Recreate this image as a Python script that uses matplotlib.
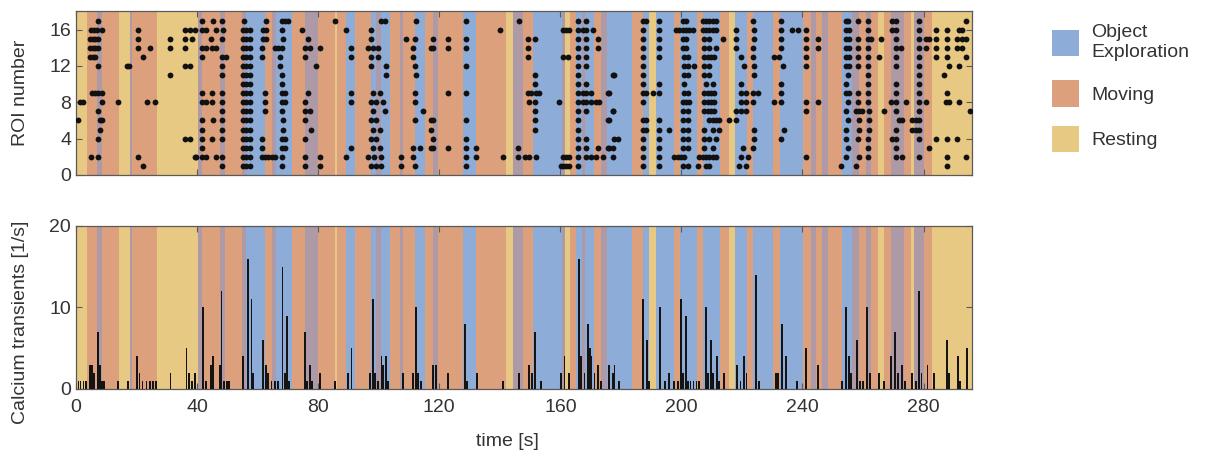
import matplotlib
matplotlib.use("Agg")
import matplotlib.pyplot as plt
from matplotlib.patches import Patch

plt.rcParams['font.family'] = ['Liberation Sans', 'DejaVu Sans']

# behaviour segments: edges in seconds, one state per segment
# E = object exploration, M = moving, R = resting, G = overlap / transition
seg_edges = [0, 3.5, 6.8, 8.7, 14.3, 17.8, 18.4, 26.8, 40.4, 41.5, 47.5, 49.2, 54.7,
             56.3, 62.4, 64.9, 66.2, 71.2, 75.6, 80, 85.5, 86.2, 89.3, 92.1, 97.6,
             99, 100.9, 103.6, 106.9, 108, 111.9, 115.2, 117.9, 119.6, 127.8, 132.2,
             142.2, 144.3, 147.6, 150.9, 160.5, 161.5, 163.2, 165.2, 167, 168, 171,
             173.5, 175.3, 183.7, 187.2, 189.2, 191.6, 197.4, 199.6, 205.1, 207, 212.9,
             215.6, 217.8, 221.6, 223.8, 230.1, 232.6, 240.3, 242.8, 244.4, 246.6,
             248.3, 253.2, 256.5, 258.7, 261, 262.6, 264.8, 267, 269.2, 273.6, 275.8,
             276.9, 280.2, 282.7, 296]
seg_states = ['R', 'M', 'G', 'M', 'R', 'G', 'M', 'R', 'G', 'M', 'G', 'M',
              'G', 'E', 'M', 'G', 'E', 'M', 'G', 'M', 'R', 'M', 'E', 'M',
              'E', 'G', 'E', 'M', 'G', 'M', 'E', 'M', 'G', 'M', 'E',
              'M', 'R', 'G', 'M', 'E', 'G', 'R', 'M', 'E', 'G', 'E',
              'M', 'G', 'E', 'M', 'E', 'R', 'E', 'M', 'E', 'M', 'E',
              'M', 'R', 'E', 'M', 'E', 'M', 'E', 'M', 'G', 'M',
              'G', 'M', 'E', 'G', 'M', 'G', 'M', 'R', 'M', 'G', 'M',
              'R', 'G', 'M', 'R']

state_colors = {'E': '#8dacd8', 'M': '#dca17c', 'R': '#e8c983', 'G': '#ad9aa6'}
legend_labels = ['Object\nExploration', 'Moving', 'Resting']

# calcium transient times per ROI [s]
roi_17 = [7.4, 41.5, 45.3, 48.1, 55.5, 62.9, 67.9, 69.0, 70.1, 85.5, 100.9, 102.0, 112.4,
          128.7, 146.3, 165.8, 168.5, 187.2, 188.3, 192.7, 200.4, 201.5, 207.0, 208.1,
          209.2, 210.3, 211.4, 223.5, 232.9, 254.3, 255.2, 258.5, 261.5, 269.7, 270.8,
          278.5, 293.9]
roi_16 = [4.8, 5.9, 7.0, 8.5, 20.4, 36.0, 37.6, 39.3, 41.5, 43.1, 46.4, 48.6, 55.2, 56.3,
          57.4, 61.8, 62.9, 67.9, 74.5, 89.3, 97.6, 140.2, 160.8, 161.9, 163.0, 165.8,
          167.4, 168.5, 170.7, 187.2, 192.7, 198.2, 199.3, 200.4, 201.5, 202.6, 203.7,
          207.0, 208.1, 209.2, 210.3, 211.4, 218.0, 224.1, 232.9, 236.7, 238.4, 241.1,
          254.3, 255.4, 261.5, 269.7, 270.8, 278.5, 284.0, 287.9, 291.7, 292.8]
roi_15 = [4.6, 5.5, 6.4, 7.4, 20.4, 31.0, 36.0, 38.2, 44.5, 48.1, 55.2, 56.3, 57.4, 61.8,
          62.9, 68.4, 76.7, 97.6, 109.1, 111.9, 117.9, 122.9, 128.7, 149.3, 151.5, 165.8,
          168.5, 172.4, 187.2, 192.7, 200.4, 201.5, 207.6, 209.2, 213.6, 218.0, 224.1,
          232.9, 241.1, 245.0, 254.3, 255.4, 258.5, 261.5, 262.6, 265.9, 270.8, 278.5,
          280.7, 281.8, 284.0, 287.9, 291.1, 292.8, 293.9]
roi_14 = [4.6, 5.5, 6.4, 7.4, 20.4, 24.4, 31.0, 36.0, 41.5, 43.1, 44.8, 46.4, 55.2, 56.3,
          57.4, 61.3, 65.7, 66.8, 67.9, 75.6, 77.2, 80.5, 91.0, 96.5, 98.1, 99.8, 111.3,
          117.4, 117.9, 122.9, 128.7, 149.3, 165.8, 168.5, 172.4, 187.2, 192.7, 200.4,
          201.5, 207.6, 209.2, 211.4, 218.0, 223.5, 232.9, 241.1, 245.0, 254.3, 255.4,
          258.5, 261.5, 270.8, 272.5, 278.5, 280.7, 284.0, 287.9, 291.1, 292.8]
roi_13 = [4.6, 5.5, 6.4, 22.0, 41.5, 48.1, 49.7, 55.2, 56.3, 57.4, 61.3, 67.3, 75.6, 91.0,
          97.6, 99.8, 111.3, 149.3, 160.8, 162.5, 165.8, 168.5, 187.2, 192.7, 201.0,
          202.1, 207.6, 208.7, 209.8, 210.9, 219.7, 223.5, 230.7, 232.3, 241.1, 254.3,
          255.4, 258.5, 261.5, 265.3, 270.8, 278.5, 284.0, 287.9, 293.9]
roi_12 = [7.4, 16.9, 17.6, 36.0, 37.6, 48.1, 55.2, 56.3, 57.4, 67.3, 79.4, 97.6, 102.5,
          111.9, 128.7, 165.8, 168.5, 187.2, 201.0, 202.1, 204.3, 207.6, 209.2, 220.8,
          224.1, 233.4, 241.1, 254.3, 255.4, 258.5, 261.5, 270.8, 278.5, 288.4, 291.7]
roi_11 = [31.0, 48.1, 55.2, 56.3, 57.4, 67.9, 102.5, 112.4, 151.5, 165.8, 177.9, 177.3,
          187.2, 201.0, 202.1, 207.6, 209.2, 224.1, 254.9, 261.5, 278.5, 286.8]
roi_10 = [55.2, 56.3, 57.4, 67.9, 151.5, 165.8, 168.5, 187.2, 192.7, 201.0, 208.1, 210.3,
          219.7, 232.9, 254.3, 261.5, 270.8, 278.5]
roi_9 = [5.2, 6.3, 7.4, 8.5, 41.5, 44.8, 48.1, 55.2, 56.3, 57.4, 62.4, 67.9, 69.0, 76.7,
         91.0, 98.1, 100.3, 111.9, 122.9, 128.7, 149.3, 150.4, 152.0, 153.1, 165.8, 167.4,
         168.5, 170.2, 175.7, 176.2, 187.2, 188.3, 190.5, 192.7, 201.0, 202.1, 207.6,
         208.7, 209.8, 210.9, 219.7, 221.3, 223.5, 225.2, 232.9, 254.3, 255.4, 258.5,
         261.5, 270.8, 278.5, 287.9]
roi_8 = [1.3, 2.4, 8.5, 14.0, 23.3, 26.1, 41.5, 43.1, 44.8, 48.1, 55.2, 56.3, 57.4, 62.4,
         67.9, 69.0, 75.6, 91.0, 97.6, 99.2, 101.4, 111.9, 149.8, 151.5, 159.7, 165.8,
         167.4, 168.5, 170.2, 171.8, 172.9, 187.2, 200.4, 201.5, 202.6, 207.6, 208.7,
         209.8, 210.9, 219.7, 221.3, 223.5, 230.7, 232.9, 241.1, 245.0, 254.9, 258.5,
         261.5, 269.2, 270.8, 274.1, 278.5, 280.7, 287.3, 288.4, 291.7]
roi_7 = [7.4, 48.1, 55.2, 56.3, 57.4, 62.4, 67.9, 75.6, 77.2, 98.1, 102.0, 114.6, 151.5,
         165.8, 168.5, 177.4, 177.3, 200.4, 202.1, 207.6, 208.7, 209.8, 210.9, 218.0,
         219.7, 221.3, 241.1, 254.3, 257.6, 258.7, 259.8, 262.0, 267.0, 270.8, 278.5, 295.5]
roi_6 = [0.8, 8.0, 8.6, 41.5, 45.3, 48.1, 55.2, 56.3, 57.4, 68.4, 75.6, 97.6, 99.2, 111.9,
         117.4, 117.9, 128.7, 151.5, 165.8, 175.7, 176.2, 187.2, 188.3, 192.7, 200.4,
         202.1, 209.2, 210.3, 211.4, 212.5, 215.8, 218.0, 254.9, 258.7, 262.0, 271.9,
         273.0, 276.3, 277.4, 278.5]
roi_5 = [7.9, 41.5, 48.1, 55.2, 56.3, 57.4, 68.4, 77.8, 98.1, 100.3, 117.4, 151.5, 165.8,
         187.2, 188.3, 192.7, 196.0, 200.4, 202.1, 207.6, 210.3, 212.5, 224.1, 234.0,
         254.3, 258.7, 262.0, 270.8, 276.3, 277.4, 278.5]
roi_4 = [7.4, 36.0, 37.6, 41.5, 44.8, 48.1, 55.2, 56.3, 57.4, 61.3, 67.9, 69.0, 75.6, 97.6,
         99.2, 117.9, 128.7, 165.8, 168.5, 177.9, 179.0, 187.2, 192.7, 200.4, 202.1, 207.6,
         209.2, 211.4, 224.1, 232.9, 254.3, 258.5, 261.5, 269.7, 270.8, 278.5, 284.0,
         287.9, 291.1]
roi_3 = [41.5, 55.2, 56.3, 57.4, 61.3, 67.9, 69.0, 91.0, 98.1, 100.3, 111.3, 113.5, 117.4,
         117.9, 122.9, 128.7, 132.2, 146.0, 165.8, 168.5, 172.4, 175.7, 177.4, 176.2,
         187.2, 192.7, 200.4, 202.1, 207.6, 210.3, 220.2, 223.5, 254.9, 261.5, 270.8, 281.8]
roi_2 = [4.8, 7.4, 20.4, 39.3, 39.8, 41.5, 43.1, 46.4, 48.1, 55.2, 56.3, 57.4, 61.3, 62.4,
         63.5, 64.6, 65.7, 67.9, 75.6, 80.5, 89.3, 96.5, 98.6, 100.9, 107.5, 111.3, 128.7,
         132.2, 141.0, 146.0, 148.2, 149.8, 152.0, 160.8, 161.9, 163.0, 165.8, 168.5,
         170.2, 171.8, 174.1, 177.3, 187.2, 192.7, 197.7, 198.8, 199.9, 201.0, 205.9,
         207.0, 208.1, 209.2, 210.3, 211.4, 219.7, 221.9, 241.1, 254.3, 258.7, 261.5,
         270.8, 273.0, 278.5, 287.9, 293.9]
roi_1 = [22.0, 48.1, 55.2, 56.3, 57.4, 67.9, 75.6, 80.5, 97.6, 99.2, 100.9, 107.5, 111.9,
         128.7, 160.3, 160.8, 161.9, 163.0, 165.8, 187.2, 192.7, 200.4, 202.1, 205.4,
         208.1, 209.2, 219.1, 221.3, 252.7, 257.6, 287.9]

roi_lists = [roi_1, roi_2, roi_3, roi_4, roi_5, roi_6, roi_7, roi_8, roi_9, roi_10,
             roi_11, roi_12, roi_13, roi_14, roi_15, roi_16, roi_17]

# population calcium transient rate [1/s]
rate_t = [0.8, 1.5, 2.5, 3.2, 4.6, 5.3, 5.9, 7.4, 8.0, 8.6, 9.2, 14.0, 17.3, 20.2, 21.0,
          22.0, 23.3, 24.4, 25.5, 26.3, 31.2, 36.5, 37.2, 38.2, 39.3, 42.0, 43.0, 44.5,
          45.3, 47.6, 48.1, 48.8, 49.8, 50.5, 55.2, 56.9, 58.0, 58.6, 61.8, 62.9, 63.5,
          64.6, 65.7, 66.8, 68.2, 69.0, 69.7, 70.3, 75.6, 76.2, 77.2, 78.0, 80.5, 85.5,
          89.9, 91.0, 97.0, 98.1, 98.7, 99.8, 100.9, 101.5, 102.5, 103.1, 108.0, 111.3,
          112.4, 113.0, 114.0, 117.9, 119.0, 122.9, 128.6, 129.2, 132.4, 141.0, 146.3,
          149.6, 150.6, 151.7, 153.7, 160.3, 161.4, 163.0, 166.1, 166.9, 168.0, 169.1,
          169.7, 170.2, 171.3, 172.4, 173.5, 176.2, 177.3, 177.9, 179.5, 187.2, 188.6,
          189.3, 193.0, 194.5, 196.0, 197.5, 198.8, 199.9, 200.6, 201.5, 202.2, 203.0,
          204.0, 205.0, 205.9, 208.1, 208.8, 209.8, 210.5, 211.7, 212.4, 214.2, 218.3,
          219.5, 220.8, 221.5, 224.6, 225.7, 231.2, 232.0, 233.2, 234.5, 238.1, 241.1,
          245.0, 253.0, 254.3, 255.4, 256.0, 258.1, 259.0, 260.0, 261.4, 262.2, 265.3,
          267.0, 269.2, 270.6, 271.5, 273.0, 274.0, 276.3, 277.5, 278.5, 279.3, 281.3,
          283.4, 287.8, 288.5, 291.4, 292.0, 294.4]
rate_v = [1, 1, 1, 1, 3, 3, 2, 7, 3, 1, 1, 1, 1, 4, 2,
          1, 1, 1, 1, 1, 2, 5, 2, 1, 2, 10, 1, 3,
          4, 3, 12, 1, 1, 1, 4, 16, 11, 2, 6, 3, 2,
          1, 1, 1, 15, 2, 9, 1, 7, 1, 3, 1, 2, 1,
          2, 5, 2, 11, 2, 1, 4, 3, 4, 1, 2, 2,
          10, 2, 1, 3, 3, 2, 8, 1, 2, 1, 2,
          3, 2, 7, 1, 2, 4, 2, 16, 4, 2, 8,
          5, 4, 2, 3, 1, 3, 2, 3, 1, 11, 6,
          1, 10, 1, 2, 1, 1, 11, 2, 9, 1, 1,
          1, 1, 1, 10, 2, 6, 2, 4, 1, 2, 3,
          1, 4, 2, 14, 1, 2, 2, 8, 4, 1, 5,
          3, 1, 10, 4, 2, 6, 1, 1, 10, 2, 2,
          1, 4, 7, 2, 3, 1, 2, 1, 12, 2, 3,
          2, 6, 2, 4, 1, 5]

text_color = '#333333'
edge_color = '#5a5a5a'

fig = plt.figure(figsize=(12.1, 4.53), dpi=100)
ax1 = fig.add_axes([0.0628, 0.6137, 0.7405, 0.361])
ax2 = fig.add_axes([0.0628, 0.1413, 0.7405, 0.360])

for ax in (ax1, ax2):
    for i, s in enumerate(seg_states):
        ax.axvspan(seg_edges[i], seg_edges[i + 1], color=state_colors[s], lw=0, zorder=0)
    ax.set_xlim(0, 296)
    ax.tick_params(direction='in', top=True, right=True, length=4, width=0.8,
                   colors=edge_color, labelcolor=text_color, labelsize=14)
    for sp in ax.spines.values():
        sp.set_color(edge_color)
        sp.set_linewidth(0.9)

# raster of transients
for roi, times in enumerate(roi_lists, start=1):
    ax1.plot(times, [roi] * len(times), 'o', color='#111111', ms=4.2, mec='none', zorder=3)
ax1.set_ylim(0, 18)
ax1.set_yticks([0, 4, 8, 12, 16])
ax1.set_xticks(range(0, 281, 40))
ax1.set_xticklabels([])
ax1.set_ylabel('ROI number', fontsize=14, color=text_color)
ax1.yaxis.set_label_coords(-0.052, 0.5)

# transient rate
ax2.bar(rate_t, rate_v, width=0.6, color='#141414', lw=0, zorder=3)
ax2.set_ylim(0, 20)
ax2.set_yticks([0, 10, 20])
ax2.set_xticks(range(0, 281, 40))
ax2.tick_params(axis='x', pad=7)
ax2.set_ylabel('Calcium transients [1/s]', fontsize=14, color=text_color)
ax2.yaxis.set_label_coords(-0.052, 0.41)
ax2.set_xlabel('time [s]', fontsize=14, color=text_color)
ax2.xaxis.set_label_coords(0.482, -0.27)

handles = [Patch(facecolor=state_colors[k], edgecolor='none') for k in ['E', 'M', 'R']]
fig.legend(handles, legend_labels, loc='upper left', bbox_to_anchor=(0.855, 0.985),
           frameon=False, fontsize=14, handlelength=1.4, handleheight=1.7,
           handletextpad=0.6, labelspacing=1.0, labelcolor=text_color)

fig.savefig('out.png', dpi=100)
